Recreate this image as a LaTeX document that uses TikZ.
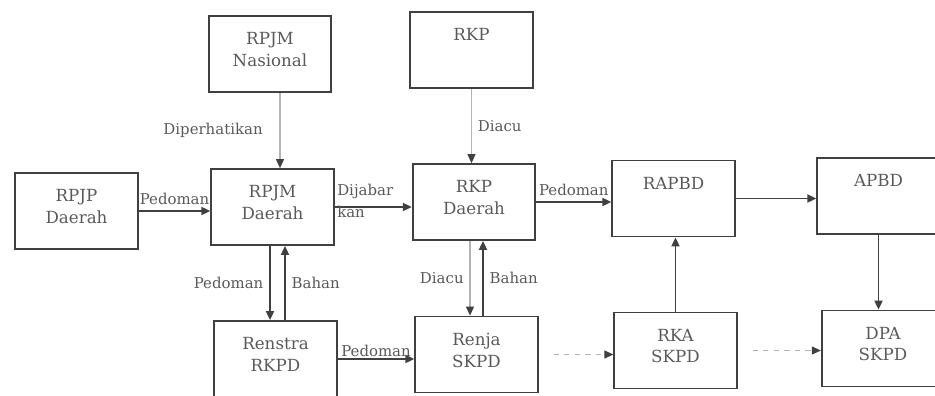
\documentclass[tikz,border=0pt]{standalone}
\usepackage{fontspec}
\setmainfont{DejaVu Serif}
\usetikzlibrary{arrows.meta}
\begin{document}
\begin{tikzpicture}[font=\fontsize{8.5}{11}\selectfont, color=black!65,
		box/.style={draw=black!75, line width=1pt, minimum width=2.45cm, minimum height=1.52cm, inner sep=0pt},
		txt/.style={anchor=north, yshift=-2.2mm, align=center, font=\fontsize{9.5}{12.5}\selectfont},
		tip/.style={-{Triangle[length=1.8mm, width=1.6mm, color=black!75]}},
		arr/.style={tip, draw=black!75, line width=1pt},
		faint/.style={tip, draw=black!30, semithick},
		dots/.style={tip, draw=black!30, semithick, dash pattern=on 3pt off 3pt, shorten <=3mm}]
	\clip (0,0) rectangle (18.7,7.9);
	\node[box, label={[txt]north:RPJM\\Nasional}] (rpjmnas) at (5.40,6.82) {}; \node[box, label={[txt]north:RKP}] (rkp) at (9.43,6.90) {};
	\node[box, label={[txt]north:RPJP\\Daerah}] (rpjp) at (1.53,3.68) {}; \node[box, label={[txt]north:RPJM\\Daerah}] (rpjm) at (5.45,3.76) {};
	\node[box, label={[txt]north:RKP\\Daerah}] (rkpd) at (9.48,3.86) {}; \node[box, label={[txt]north:RAPBD}] (rapbd) at (13.47,3.93) {};
	\node[box, label={[txt]north:APBD}] (apbd) at (17.57,3.98) {};
	\node[box, label={[txt]north:Renstra\\RKPD}] (renstra) at (5.51,0.72) {}; \node[box, label={[txt]north:Renja\\SKPD}] (renja) at (9.53,0.81) {};
	\node[box, label={[txt]north:RKA\\SKPD}] (rka) at (13.51,0.89) {}; \node[box, label={[txt]north:DPA\\SKPD}] (dpa) at (17.66,0.93) {};

	\coordinate (n1) at ([xshift=0.2cm]rpjmnas.south);
	\coordinate (d1) at ([xshift=-0.05cm]rpjm.south); \coordinate (u1) at ([xshift=0.25cm]rpjm.south);
	\coordinate (d2) at ([xshift=-0.08cm]rkpd.south); \coordinate (u2) at ([xshift=0.18cm]rkpd.south);

	\draw[faint] (n1) -- (n1 |- rpjm.north) node[midway, left=2.2mm] {Diperhatikan};
	\draw[faint] (rkp.south) -- (rkp.south |- rkpd.north) node[midway, right] {Diacu};
	\draw[arr] (rpjp.east) -- (rpjp.east -| rpjm.west) node[midway, above] {Pedoman};
	\draw[arr] (rpjm.east) -- (rpjm.east -| rkpd.west) node[pos=0, right, yshift=1.2mm, align=left, inner sep=1pt, font=\fontsize{8.5}{12.5}\selectfont] {Dijabar\\kan};
	\draw[arr] (rkpd.east) -- (rkpd.east -| rapbd.west) node[midway, above] {Pedoman};
	\draw[arr] (rapbd.east) -- (rapbd.east -| apbd.west);
	\draw[arr] (d1) -- (d1 |- renstra.north) node[midway, left] {Pedoman};
	\draw[arr] (u1 |- renstra.north) -- (u1) node[midway, right] {Bahan};
	\draw[faint] (d2) -- (d2 |- renja.north) node[midway, left] {Diacu};
	\draw[arr] (u2 |- renja.north) -- (u2) node[midway, right] {Bahan};
	\draw[arr] (renstra.east) -- (renstra.east -| renja.west) node[midway, above, inner sep=1pt] {Pedoman};
	\draw[dots] (renja.east) -- (renja.east -| rka.west);
	\draw[arr] (rka.north) -- (rka.north |- rapbd.south);
	\draw[dots] (rka.east) -- (rka.east -| dpa.west);
	\draw[arr] (apbd.south) -- (apbd.south |- dpa.north);
\end{tikzpicture}
\end{document}
